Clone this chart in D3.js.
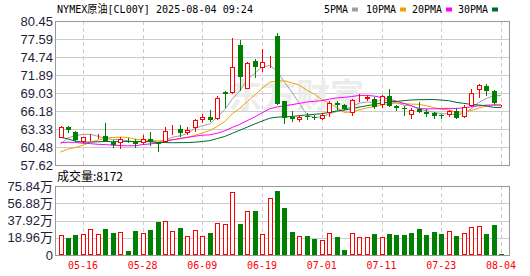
<!DOCTYPE html>
<html><head><meta charset="utf-8">
<script src="https://cdn.jsdelivr.net/npm/d3@7"></script>
<style>body{margin:0;background:#fff;}svg{display:block;}</style>
</head><body>
<script>
// ---------------- data ----------------
const title = "NYMEX原油[CL00Y] 2025-08-04 09:24";
const volumeLabel = "成交量:8172";
const dates = ["2025-05-13","2025-05-14","2025-05-15","2025-05-16","2025-05-19","2025-05-20","2025-05-21","2025-05-22","2025-05-23","2025-05-26",
"2025-05-27","2025-05-28","2025-05-29","2025-05-30","2025-06-02","2025-06-03","2025-06-04","2025-06-05","2025-06-06","2025-06-09",
"2025-06-10","2025-06-11","2025-06-12","2025-06-13","2025-06-16","2025-06-17","2025-06-18","2025-06-19","2025-06-20","2025-06-23",
"2025-06-24","2025-06-25","2025-06-26","2025-06-27","2025-06-30","2025-07-01","2025-07-02","2025-07-03","2025-07-04","2025-07-07",
"2025-07-08","2025-07-09","2025-07-10","2025-07-11","2025-07-14","2025-07-15","2025-07-16","2025-07-17","2025-07-18","2025-07-21",
"2025-07-22","2025-07-23","2025-07-24","2025-07-25","2025-07-28","2025-07-29","2025-07-30","2025-07-31","2025-08-01","2025-08-04"];
const opens  = [62.0,63.6,62.9,61.2,61.95,62.0,62.2,61.3,61.0,61.45, 61.5,61.1,61.7,61.2,61.3,63.2,63.4,62.75,63.45,64.9,
 65.3,64.8,69.25,68.9,76.6,69.7,74.15,73.1,74.1,78.1, 67.75,65.2,64.85,65.4,65.3,64.9,65.8,67.45,67.15,65.8,
 68.05,68.1,68.1,67.2,68.6,66.9,66.65,65.55,66.45,66.05, 65.8,65.5,65.55,66.2,65.2,67.0,69.4,70.2,69.35,66.9];
const highs  = [63.8,63.8,63.0,62.1,62.6,62.5,64.2,61.6,62.0,61.9, 61.7,62.4,62.9,61.3,63.7,63.9,63.9,63.7,64.9,65.7,
 66.3,68.5,69.4,77.7,77.5,73.9,74.5,76.0,74.9,78.55, 67.8,66.2,65.5,65.9,65.6,65.8,67.7,67.7,67.3,68.1,
 68.85,68.75,68.45,68.75,69.6,67.2,67.0,66.6,67.6,66.45, 66.05,65.7,66.35,66.6,67.1,69.7,70.5,70.45,69.5,67.1];
const lows   = [61.9,62.7,61.3,61.1,61.5,61.7,61.2,60.3,60.1,61.1, 60.3,60.8,60.6,59.7,61.1,62.3,62.1,62.4,62.8,64.3,
 64.5,64.7,66.6,68.8,69.4,69.6,71.45,72.4,73.0,67.1, 64.1,64.5,64.5,64.8,64.7,64.7,65.3,66.3,66.3,65.45,
 67.65,67.8,66.45,66.6,66.75,66.2,65.4,64.9,65.8,65.3, 64.85,64.85,65.3,64.9,65.1,66.8,68.3,68.5,67.1,66.8];
const closes = [63.69,63.1,61.6,62.0,62.05,62.15,61.4,60.8,61.7,61.35, 61.0,61.7,61.2,60.9,63.0,63.4,62.7,63.15,64.75,65.3,
 64.75,68.2,69.0,73.1,71.6,73.85,73.2,74.0,74.3,67.3, 65.1,64.95,65.3,65.25,65.1,65.6,67.4,67.1,66.45,67.9,
 68.25,68.35,66.85,68.6,66.95,66.6,66.45,66.35,66.0,65.75, 65.4,65.3,66.2,65.15,66.85,69.1,70.25,69.4,67.4,67.0];
// volume in 万
const volumes = [21.6,18.7,22.0,22.7,28.2,22.7,28.6,24.2,24.9,4.4, 26.4,23.8,27.5,36.3,37.0,26.0,29.7,20.5,27.1,20.5,
 24.2,34.8,33.7,68.9,34.1,48.0,48.4,22.7,62.3,70.3, 51.7,25.3,20.5,20.5,17.6,16.1,23.8,19.8,5.5,23.8,
 19.4,19.4,23.1,19.4,23.1,22.0,22.0,24.2,28.6,22.0, 25.3,23.1,26.0,20.9,23.8,30.4,31.5,23.1,33.0,0.8172];
// closes before the first visible day (used only for the moving averages)
const priorCloses = [71.20,71.71,66.95,61.99,60.70,59.58,62.35,60.07,61.50,61.53,61.33,62.47,64.68,63.08,64.31,
 62.27,62.79,63.02,62.05,60.42,58.21,59.24,58.29,57.13,59.09,58.07,59.91,61.02,61.95];
const priceTicks = [57.62,60.48,63.33,66.18,69.03,71.89,74.74,77.59,80.45];
const volTicks = [0,18.96,37.92,56.88,75.84];
const volTickLabels = ["0","18.96万","37.92万","56.88万","75.84万"];
const dateTickLabels = ["05-16","05-28","06-09","06-19","07-01","07-11","07-23","08-04"];
const maPeriods = [5,10,20,30];
const maNames = ["5PMA","10PMA","20PMA","30PMA"];
const maColors = ["#a0a0a0","#f0a000","#ff00ff","#006b2d"];

// ---------------- layout ----------------
const W = 530, H = 276;
const M = {l:55, r:509, t:21, b:165};
const V = {t:186, b:255};
const UP = "#ff0000", DOWN = "#008000";
const monoFont = "'DejaVu Sans Mono', 'Noto Sans CJK SC', monospace";
const numFont = "'Liberation Sans', Arial, sans-serif";

const svg = d3.select("body").append("svg").attr("width", W).attr("height", H);

const x = d3.scaleBand().domain(dates).range([56.77, 504.73]).paddingInner(0).paddingOuter(0);
const cx = d => x(d) + x.bandwidth() / 2;
const y = d3.scaleLinear().domain([57.62, 80.45]).range([M.b, M.t]);
const yv = d3.scaleLinear().domain([0, 75.84]).range([V.b, V.t]);

const tickDates = dates.filter(d => dateTickLabels.includes(d.slice(5)));

// clip
svg.append("clipPath").attr("id","clipMain").append("rect")
  .attr("x", M.l).attr("y", M.t).attr("width", M.r - M.l).attr("height", M.b - M.t);

// ---------------- grids ----------------
const grid = svg.append("g").attr("shape-rendering","crispEdges");
grid.selectAll(".hg").data(priceTicks.slice(1, -1)).join("line")
  .attr("x1", M.l).attr("x2", M.r).attr("y1", d => Math.round(y(d)) + 0.5).attr("y2", d => Math.round(y(d)) + 0.5)
  .attr("stroke", "#cccccc");
grid.selectAll(".hv").data(volTicks.slice(1, -1)).join("line")
  .attr("x1", M.l).attr("x2", M.r).attr("y1", d => Math.round(yv(d)) + 0.5).attr("y2", d => Math.round(yv(d)) + 0.5)
  .attr("stroke", "#cccccc");
[[M.t, M.b], [V.t, V.b]].forEach(([t, b]) => {
  grid.append("g").selectAll("line").data(tickDates).join("line")
    .attr("x1", d => Math.round(cx(d)) + 0.5).attr("x2", d => Math.round(cx(d)) + 0.5)
    .attr("y1", t).attr("y2", b)
    .attr("stroke", "#cccccc").attr("stroke-dasharray", "4,3");
});

// watermark
svg.append("text").attr("x", 228).attr("y", 108)
  .attr("font-family", "'Noto Sans CJK SC', sans-serif").attr("font-size", 34).attr("font-weight", "bold")
  .attr("fill", "#ececec").text("东方财富");

// ---------------- moving averages ----------------
const allCloses = priorCloses.concat(closes);
const n0 = priorCloses.length;
const maSeries = maPeriods.map(p => closes.map((c, i) => d3.mean(allCloses.slice(n0 + i - p + 1, n0 + i + 1))));
const line = d3.line().x((d, i) => cx(dates[i])).y(d => y(d));
const maG = svg.append("g").attr("clip-path", "url(#clipMain)");
maSeries.forEach((s, k) => {
  maG.append("path").attr("d", line(s)).attr("fill", "none").attr("stroke", maColors[k]).attr("stroke-width", 1);
});

// ---------------- candles ----------------
const bodyW = 5;
const candles = svg.append("g").attr("shape-rendering", "crispEdges");
dates.forEach((d, i) => {
  const o = opens[i], c = closes[i], hi = highs[i], lo = lows[i];
  const up = c >= o;
  const col = up ? UP : DOWN;
  const xc = Math.round(cx(d));
  const yTop = y(Math.max(o, c)), yBot = y(Math.min(o, c));
  const g = candles.append("g");
  g.append("line").attr("x1", xc + 0.5).attr("x2", xc + 0.5).attr("y1", y(hi)).attr("y2", y(lo)).attr("stroke", col);
  const bh = Math.max(1, Math.round(yBot - yTop));
  if (up) {
    g.append("rect").attr("x", xc - 2 + 0.5 - 0.5).attr("y", Math.round(yTop) + 0.5)
      .attr("width", bodyW - 1).attr("height", Math.max(0, bh - 1)).attr("fill", "#fff").attr("stroke", col);
  } else {
    g.append("rect").attr("x", xc - 2).attr("y", Math.round(yTop))
      .attr("width", bodyW).attr("height", bh).attr("fill", col);
  }
});

// ---------------- volume ----------------
const vol = svg.append("g").attr("shape-rendering", "crispEdges");
dates.forEach((d, i) => {
  const prev = i === 0 ? priorCloses[n0 - 1] : closes[i - 1];
  const up = closes[i] >= prev;
  const xc = Math.round(cx(d));
  const yt = Math.round(yv(volumes[i]));
  const h = V.b - yt;
  if (up) {
    vol.append("rect").attr("x", xc - 2 + 0.5 - 0.5).attr("y", yt + 0.5).attr("width", bodyW - 1).attr("height", Math.max(0, h - 1))
      .attr("fill", "#fff").attr("stroke", UP);
  } else {
    vol.append("rect").attr("x", xc - 2).attr("y", yt).attr("width", bodyW).attr("height", Math.max(1, h)).attr("fill", DOWN);
  }
});

// ---------------- frames ----------------
[[M.t, M.b], [V.t, V.b]].forEach(([t, b]) => {
  svg.append("rect").attr("x", M.l + 0.5).attr("y", t + 0.5).attr("width", M.r - M.l).attr("height", b - t)
    .attr("fill", "none").attr("stroke", "#999999").attr("stroke-width", 1.2).attr("shape-rendering", "crispEdges");
});

// ---------------- axes ----------------
function styleAxis(g, color, font, size) {
  g.select(".domain").remove();
  g.selectAll(".tick line").remove();
  g.selectAll("text").attr("fill", color).attr("font-family", font).attr("font-size", size);
  g.attr("font-family", null).attr("font-size", null);
}
svg.append("g").attr("transform", `translate(${M.l},0)`)
  .call(d3.axisLeft(y).tickValues(priceTicks).tickFormat(d3.format(".2f")).tickSize(0).tickPadding(2))
  .call(g => styleAxis(g, "#1e1e3a", numFont, 13));
svg.append("g").attr("transform", `translate(${M.l},0)`)
  .call(d3.axisLeft(yv).tickValues(volTicks).tickFormat((d, i) => volTickLabels[i]).tickSize(0).tickPadding(2))
  .call(g => styleAxis(g, "#1e1e3a", "'Liberation Sans', 'Noto Sans CJK SC', sans-serif", 13));
svg.append("g").attr("transform", `translate(0,${V.b})`)
  .call(d3.axisBottom(x).tickValues(tickDates).tickFormat(d => d.slice(5)).tickSize(0).tickPadding(6))
  .call(g => styleAxis(g, "#ff0000", monoFont, 11))
  .call(g => g.selectAll("text").attr("textLength", 30).attr("lengthAdjust", "spacingAndGlyphs"));

// ---------------- title & legend ----------------
svg.append("text").attr("x", 57).attr("y", 13)
  .attr("font-family", monoFont).attr("font-size", 11).attr("fill", "#000")
  .attr("textLength", 196).attr("lengthAdjust", "spacingAndGlyphs").text(title);

const legendX = [324, 366, 412, 458];
const leg = svg.append("g");
maNames.forEach((nm, k) => {
  const tw = nm.length * 6;
  leg.append("text").attr("x", legendX[k]).attr("y", 13)
    .attr("font-family", monoFont).attr("font-size", 11).attr("fill", "#000")
    .attr("textLength", tw).attr("lengthAdjust", "spacingAndGlyphs").text(nm);
  leg.append("rect").attr("x", legendX[k] + tw + 4).attr("y", 7.5).attr("width", 6).attr("height", 4)
    .attr("fill", maColors[k]);
});

svg.append("text").attr("x", 57).attr("y", 181)
  .attr("font-family", "'Noto Sans CJK SC', sans-serif").attr("font-size", 12).attr("fill", "#000")
  .text(volumeLabel);
</script>
</body></html>
